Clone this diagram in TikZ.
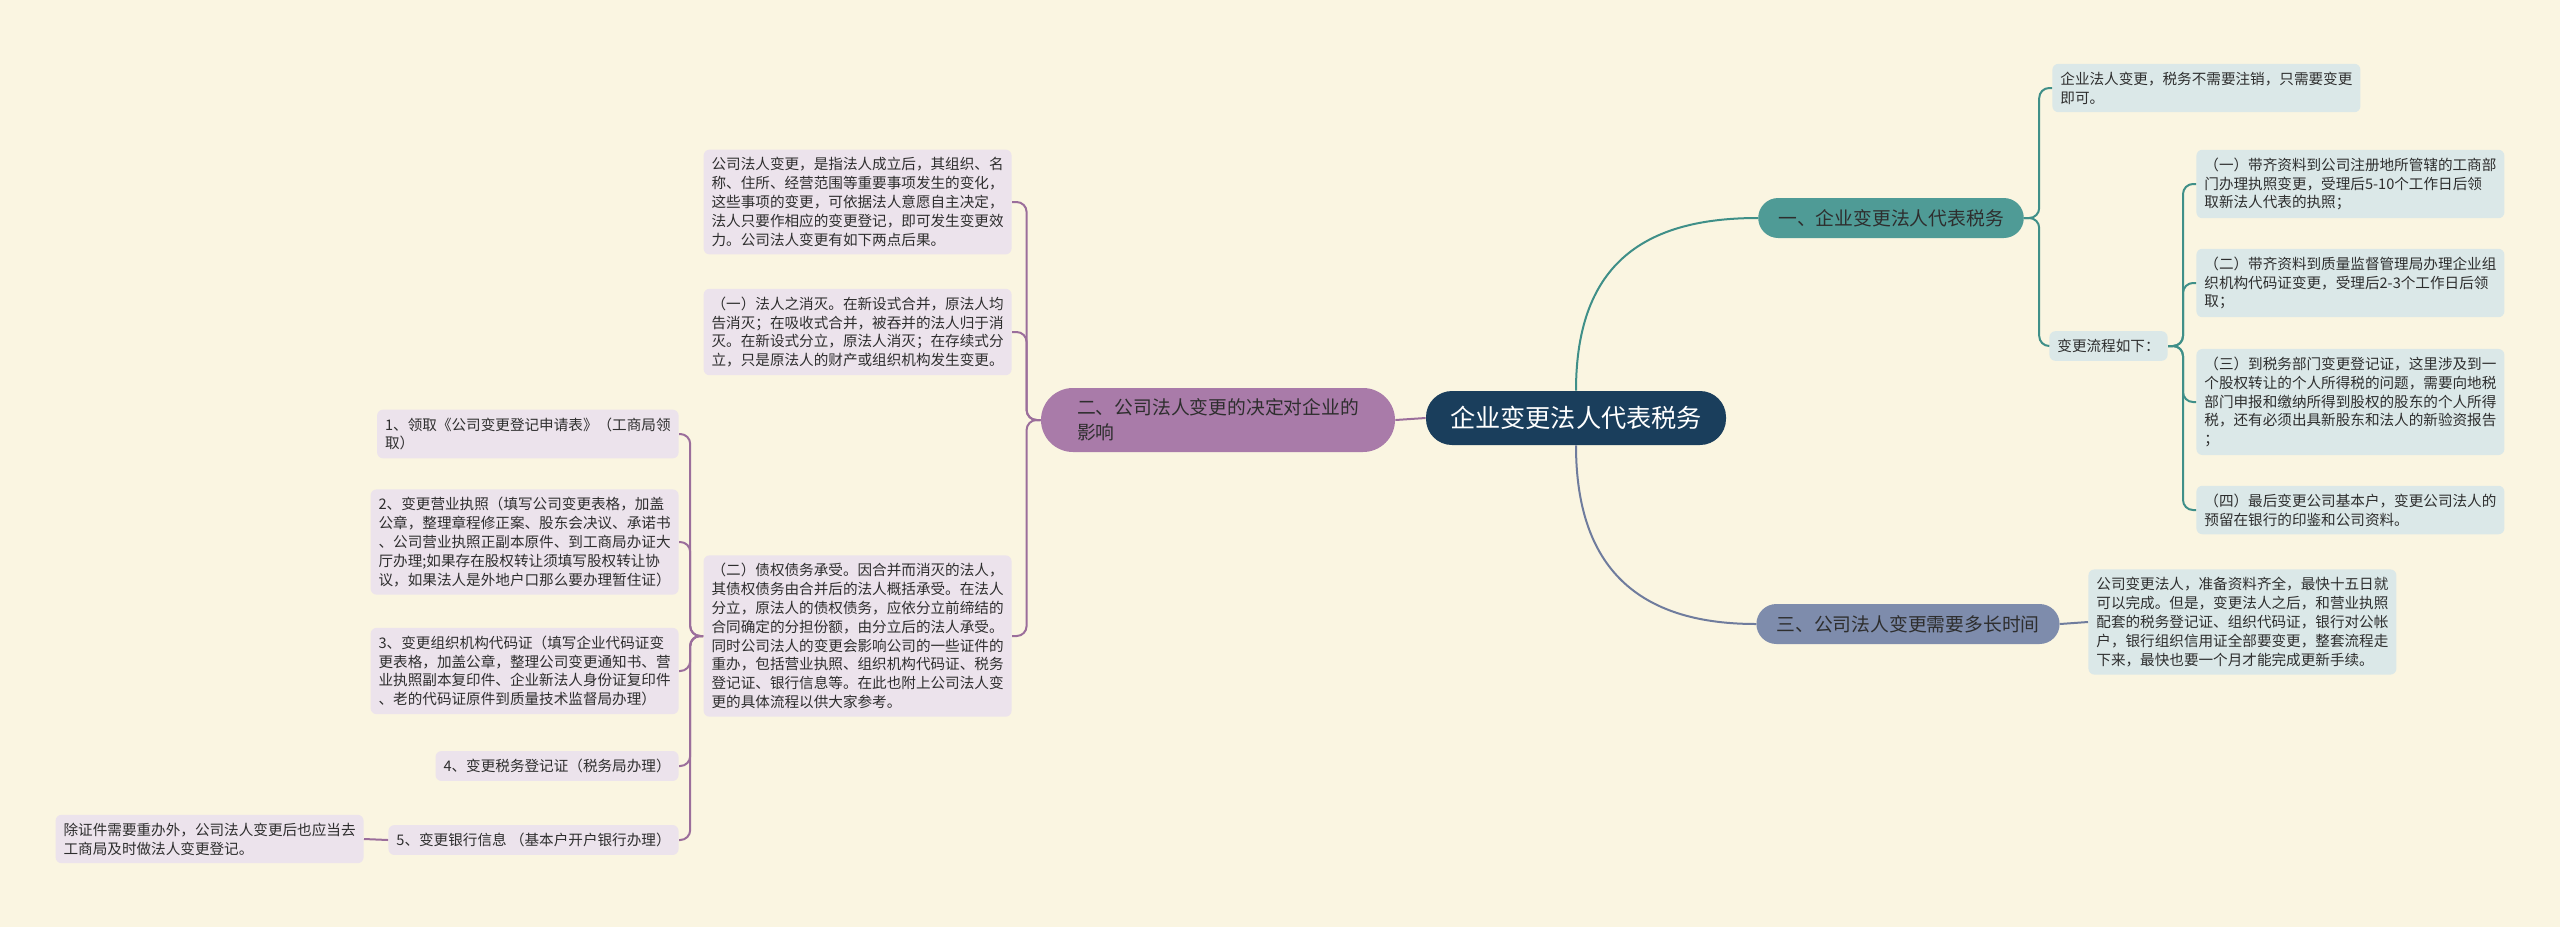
\documentclass[tikz,border=0pt]{standalone}
\usepackage{fontspec}
\usepackage{xcolor}
\usetikzlibrary{positioning}
\newfontfamily\cjk{Noto Sans CJK SC}
\definecolor{paper}{HTML}{FAF5E1}
\definecolor{navy}{HTML}{1A3E5C}
\definecolor{teal1}{HTML}{4F9B96}
\definecolor{tealln}{HTML}{3F8F88}
\definecolor{plum}{HTML}{A97BA9}
\definecolor{plumln}{HTML}{9B6E9B}
\definecolor{slate}{HTML}{7E8CAC}
\definecolor{slateln}{HTML}{6F7C9D}
\definecolor{lilac}{HTML}{ECE3EC}
\definecolor{mist}{HTML}{DBE8E8}
\definecolor{ink}{HTML}{2E2E2E}
\tikzset{
    rootbox/.style={rectangle, rounded corners=13pt, fill=navy, text=white, font=\cjk\fontsize{12.6}{15}\selectfont, minimum height=27pt, inner xsep=12pt},
    branch/.style={rectangle, rounded corners=10pt, align=left, font=\cjk\fontsize{9.4}{12.5}\selectfont, text=ink, inner xsep=10pt, minimum height=20pt},
    leaf/.style={rectangle, rounded corners=3pt, align=left, font=\cjk\fontsize{7.3}{9.4}\selectfont, text=ink, inner xsep=4pt, inner ysep=4pt},
    pleaf/.style={leaf, fill=lilac},
    tleaf/.style={leaf, fill=mist},
    plink/.style={draw=plumln, line width=1pt, rounded corners=5pt},
    tlink/.style={draw=tealln, line width=1pt, rounded corners=5pt},
    slink/.style={draw=slateln, line width=1pt}
}
\begin{document}
\begin{tikzpicture}[x=0.5pt, y=-0.5pt]
    \fill[paper] (0,0) rectangle (2560,927);
    % centre and the three branches
    \node[rootbox] (root) at (1576,418) {企业变更法人代表税务};
    \node[branch, fill=teal1] (tax) at (1891,218) {一、企业变更法人代表税务};
    \node[branch, fill=plum, inner xsep=18pt, minimum height=32pt, rounded corners=16pt] (effect) at (1218,420) {二、公司法人变更的决定对企业的\\影响};
    \node[branch, fill=slate] (time) at (1908,624) {三、公司法人变更需要多长时间};
    % left side
    \node[pleaf, anchor=east] (intro) at (1012,202) {公司法人变更，是指法人成立后，其组织、名\\称、住所、经营范围等重要事项发生的变化，\\这些事项的变更，可依据法人意愿自主决定，\\法人只要作相应的变更登记，即可发生变更效\\力。公司法人变更有如下两点后果。};
    \node[pleaf, anchor=east] (gone) at (1012,332) {（一）法人之消灭。在新设式合并，原法人均\\告消灭；在吸收式合并，被吞并的法人归于消\\灭。在新设式分立，原法人消灭；在存续式分\\立，只是原法人的财产或组织机构发生变更。};
    \node[pleaf, anchor=east] (debt) at (1012,636) {（二）债权债务承受。因合并而消灭的法人，\\其债权债务由合并后的法人概括承受。在法人\\分立，原法人的债权债务，应依分立前缔结的\\合同确定的分担份额，由分立后的法人承受。\\同时公司法人的变更会影响公司的一些证件的\\重办，包括营业执照、组织机构代码证、税务\\登记证、银行信息等。在此也附上公司法人变\\更的具体流程以供大家参考。};
    \node[pleaf, anchor=east] (s1) at (679,434) {1、领取《公司变更登记申请表》（工商局领\\取）};
    \node[pleaf, anchor=east] (s2) at (679,542) {2、变更营业执照（填写公司变更表格，加盖\\公章，整理章程修正案、股东会决议、承诺书\\、公司营业执照正副本原件、到工商局办证大\\厅办理;如果存在股权转让须填写股权转让协\\议，如果法人是外地户口那么要办理暂住证）};
    \node[pleaf, anchor=east] (s3) at (679,671) {3、变更组织机构代码证（填写企业代码证变\\更表格，加盖公章，整理公司变更通知书、营\\业执照副本复印件、企业新法人身份证复印件\\、老的代码证原件到质量技术监督局办理）};
    \node[pleaf, anchor=east] (s4) at (679,766) {4、变更税务登记证（税务局办理）};
    \node[pleaf, anchor=east] (s5) at (679,840) {5、变更银行信息 （基本户开户银行办理）};
    \node[pleaf, anchor=east] (redo) at (364,839) {除证件需要重办外，公司法人变更后也应当去\\工商局及时做法人变更登记。};
    % right side
    \node[tleaf, anchor=west] (nocancel) at (2052,88) {企业法人变更，税务不需要注销，只需要变更\\即可。};
    \node[tleaf, anchor=west] (flow) at (2049,346) {变更流程如下：};
    \node[tleaf, anchor=west] (f1) at (2196,184) {（一）带齐资料到公司注册地所管辖的工商部\\门办理执照变更，受理后5-10个工作日后领\\取新法人代表的执照；};
    \node[tleaf, anchor=west] (f2) at (2196,283) {（二）带齐资料到质量监督管理局办理企业组\\织机构代码证变更，受理后2-3个工作日后领\\取；};
    \node[tleaf, anchor=west] (f3) at (2196,402) {（三）到税务部门变更登记证，这里涉及到一\\个股权转让的个人所得税的问题，需要向地税\\部门申报和缴纳所得到股权的股东的个人所得\\税，还有必须出具新股东和法人的新验资报告\\；};
    \node[tleaf, anchor=west] (f4) at (2196,510) {（四）最后变更公司基本户，变更公司法人的\\预留在银行的印鉴和公司资料。};
    \node[tleaf, anchor=west] (month) at (2088,622) {公司变更法人，准备资料齐全，最快十五日就\\可以完成。但是，变更法人之后，和营业执照\\配套的税务登记证、组织代码证，银行对公帐\\户，银行组织信用证全部要变更，整套流程走\\下来，最快也要一个月才能完成更新手续。};
    % connectors
    \draw[tlink] (root.north) .. controls +(0,-130) and +(-110,0) .. (tax.west);
    \draw[slink] (root.south) .. controls +(0,130) and +(-110,0) .. (time.west);
    \draw[plink] (root.west) -- (effect.east);
    \foreach \c in {intro,gone,debt}
        \draw[plink] (effect.west) -- ++(-14,0) |- (\c.east);
    \foreach \c in {s1,s2,s3,s4,s5}
        \draw[plink] (debt.west) -- ++(-13,0) |- (\c.east);
    \draw[plink] (s5.west) -- (redo.east);
    \foreach \c in {nocancel,flow}
        \draw[tlink] (tax.east) -- ++(15,0) |- (\c.west);
    \foreach \c in {f1,f2,f3,f4}
        \draw[tlink] (flow.east) -- ++(15,0) |- (\c.west);
    \draw[slink] (time.east) -- (month.west);
\end{tikzpicture}
\end{document}
